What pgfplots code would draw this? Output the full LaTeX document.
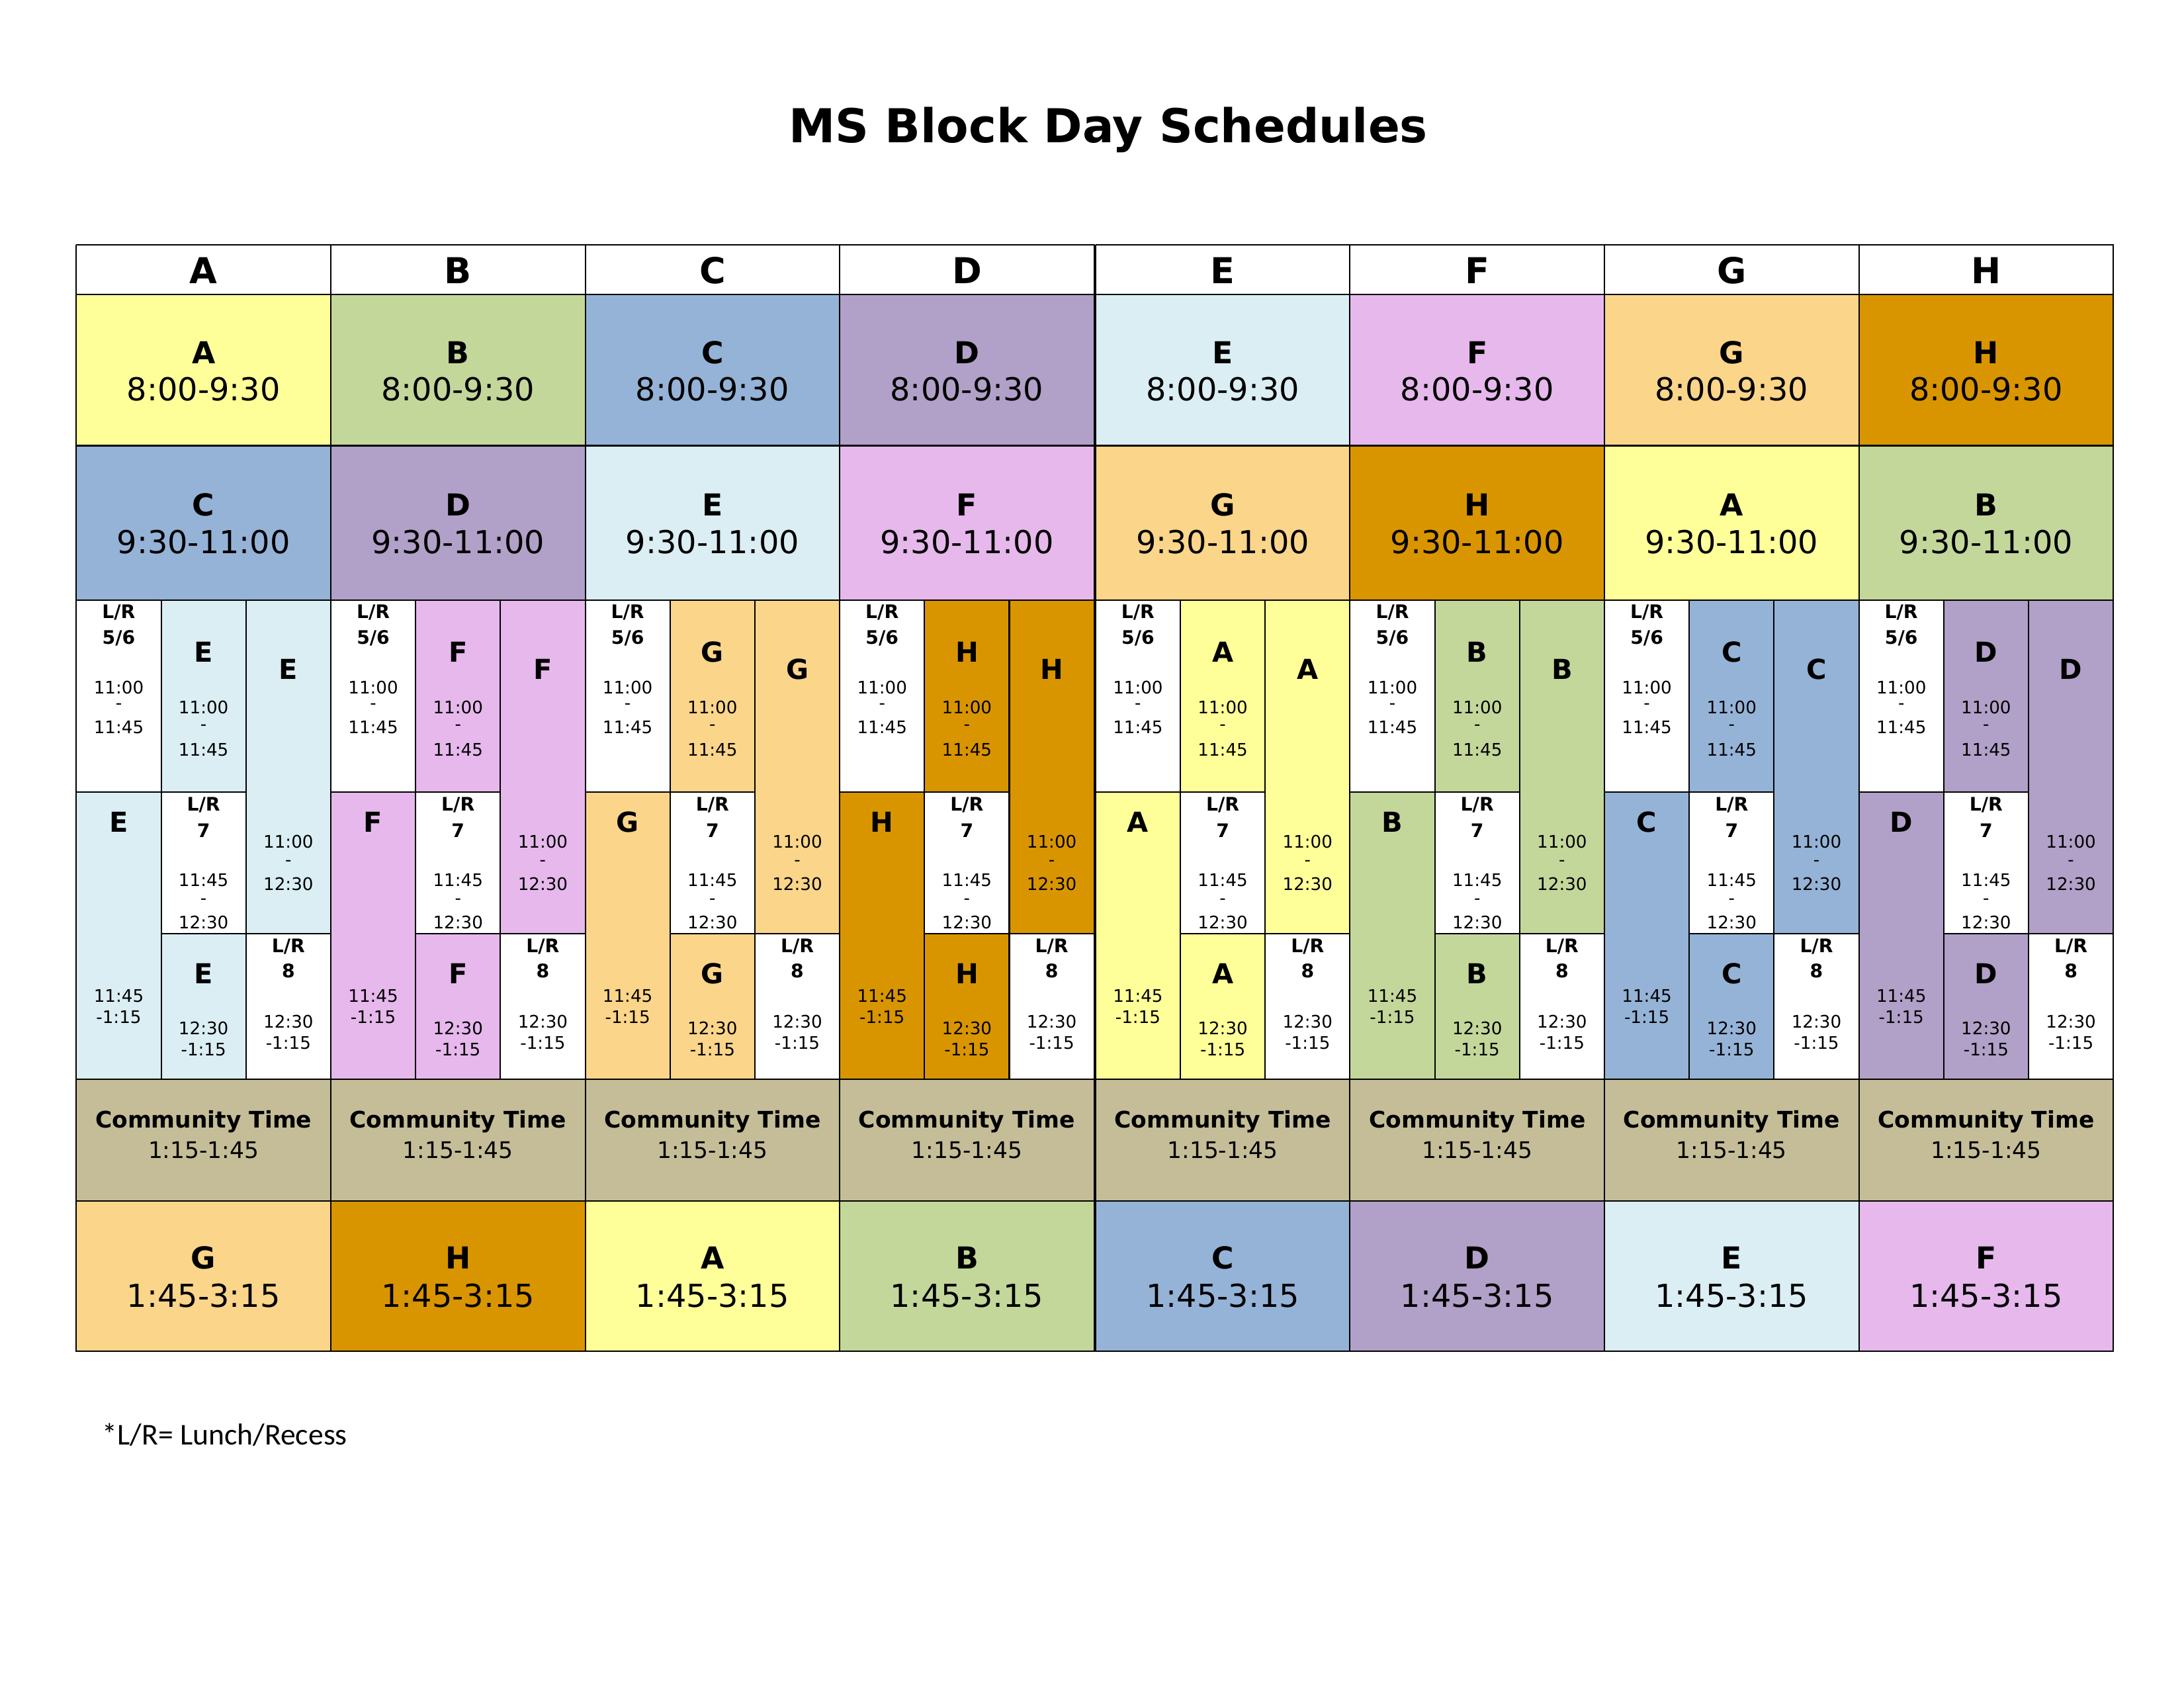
\documentclass[border=0pt]{standalone}
\usepackage{pgfplots}
\pgfplotsset{compat=1.18}
\usepackage{fontspec}
\setmainfont{DejaVu Sans}
\newfontfamily\calib{Carlito}
\definecolor{cA}{HTML}{FFFF99}
\definecolor{cB}{HTML}{C4D79B}
\definecolor{cC}{HTML}{95B3D7}
\definecolor{cD}{HTML}{B1A0C7}
\definecolor{cE}{HTML}{DAEEF3}
\definecolor{cF}{HTML}{E6B8EC}
\definecolor{cG}{HTML}{FAD58A}
\definecolor{cH}{HTML}{D99500}
\definecolor{comm}{HTML}{C4BD97}
\newcommand\R[5]{\edef\tmp{\noexpand\addplot[fill=#5,draw=black,line width=0.5pt] coordinates {(#1,#2)(#3,#2)(#3,#4)(#1,#4)(#1,#2)};}\tmp}
\newcommand\T[4]{\node[font=#4,inner sep=0pt,anchor=center] at (axis cs:#1,#2) {#3};}
\newcommand\fs[1]{\fontsize{#1}{#1}\selectfont}
\newcommand\Col[5]{%
\R{#1}{173}{\the\numexpr#1+180\relax}{208}{white}
\R{#1}{208}{\the\numexpr#1+180\relax}{315}{c#2}
\R{#1}{315}{\the\numexpr#1+180\relax}{424}{c#3}
\R{#1}{424}{\the\numexpr#1+60\relax}{560}{white}
\R{#1}{560}{\the\numexpr#1+60\relax}{763}{c#4}
\R{\the\numexpr#1+60\relax}{424}{\the\numexpr#1+120\relax}{560}{c#4}
\R{\the\numexpr#1+60\relax}{560}{\the\numexpr#1+120\relax}{660}{white}
\R{\the\numexpr#1+60\relax}{660}{\the\numexpr#1+120\relax}{763}{c#4}
\R{\the\numexpr#1+120\relax}{424}{\the\numexpr#1+180\relax}{660}{c#4}
\R{\the\numexpr#1+120\relax}{660}{\the\numexpr#1+180\relax}{763}{white}
\R{#1}{763}{\the\numexpr#1+180\relax}{849}{comm}
\R{#1}{849}{\the\numexpr#1+180\relax}{955}{c#5}
\T{#1+90}{191}{#2}{\fs{13pt}\bfseries}
\T{#1+90}{249}{#2}{\fs{11pt}\bfseries}
\T{#1+90}{275}{8:00-9:30}{\fs{11.5pt}}
\T{#1+90}{357}{#3}{\fs{11pt}\bfseries}
\T{#1+90}{383}{9:30-11:00}{\fs{11.5pt}}
\T{#1+30}{433}{L/R}{\fs{6.8pt}\bfseries}
\T{#1+30}{451}{5/6}{\fs{6.8pt}\bfseries}
\T{#1+30}{486}{11:00}{\fs{6.3pt}}
\T{#1+30}{499}{-}{\fs{6.3pt}}
\T{#1+30}{514}{11:45}{\fs{6.3pt}}
\T{#1+30}{581}{#4}{\fs{10pt}\bfseries}
\T{#1+30}{704}{11:45}{\fs{6.3pt}}
\T{#1+30}{719}{-1:15}{\fs{6.3pt}}
\T{#1+90}{461}{#4}{\fs{10pt}\bfseries}
\T{#1+90}{500}{11:00}{\fs{6.3pt}}
\T{#1+90}{514}{-}{\fs{6.3pt}}
\T{#1+90}{530}{11:45}{\fs{6.3pt}}
\T{#1+90}{569}{L/R}{\fs{6.8pt}\bfseries}
\T{#1+90}{587}{7}{\fs{6.8pt}\bfseries}
\T{#1+90}{622}{11:45}{\fs{6.3pt}}
\T{#1+90}{637}{-}{\fs{6.3pt}}
\T{#1+90}{652}{12:30}{\fs{6.3pt}}
\T{#1+90}{688}{#4}{\fs{10pt}\bfseries}
\T{#1+90}{727}{12:30}{\fs{6.3pt}}
\T{#1+90}{742}{-1:15}{\fs{6.3pt}}
\T{#1+150}{473}{#4}{\fs{10pt}\bfseries}
\T{#1+150}{595}{11:00}{\fs{6.3pt}}
\T{#1+150}{610}{-}{\fs{6.3pt}}
\T{#1+150}{625}{12:30}{\fs{6.3pt}}
\T{#1+150}{669}{L/R}{\fs{6.8pt}\bfseries}
\T{#1+150}{686}{8}{\fs{6.8pt}\bfseries}
\T{#1+150}{722}{12:30}{\fs{6.3pt}}
\T{#1+150}{737}{-1:15}{\fs{6.3pt}}
\T{#1+90}{793}{Community Time}{\fs{8.3pt}\bfseries}
\T{#1+90}{813}{1:15-1:45}{\fs{8.3pt}}
\T{#1+90}{889}{#5}{\fs{11pt}\bfseries}
\T{#1+90}{916}{1:45-3:15}{\fs{11.5pt}}
}
\begin{document}
\begin{tikzpicture}
\begin{axis}[width=11in,height=8.5in,scale only axis,hide axis,clip=false,
  xmin=0,xmax=1545,ymin=0,ymax=1193,y dir=reverse]
\Col{54}{A}{C}{E}{G}
\Col{234}{B}{D}{F}{H}
\Col{414}{C}{E}{G}{A}
\Col{594}{D}{F}{H}{B}
\Col{775}{E}{G}{A}{C}
\Col{955}{F}{H}{B}{D}
\Col{1135}{G}{A}{C}{E}
\Col{1315}{H}{B}{D}{F}
\node[font=\fs{17pt}\bfseries,inner sep=0pt] at (axis cs:784,92) {MS Block Day Schedules};
\node[font=\calib\fs{11pt},inner sep=0pt,anchor=west] at (axis cs:72,1014) {*L/R= Lunch/Recess};
\end{axis}
\useasboundingbox (current axis.south west) rectangle (current axis.north east);
\end{tikzpicture}
\end{document}
